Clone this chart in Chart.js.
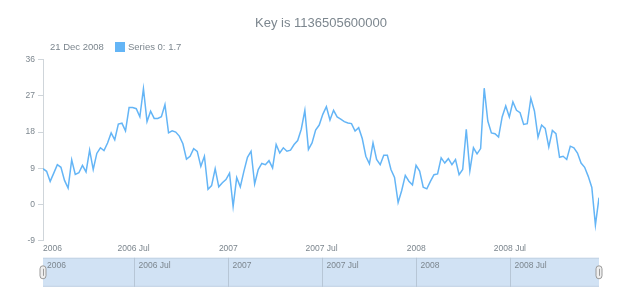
<!DOCTYPE html>
<html>
<head>
<meta charset="utf-8">
<script src="https://cdn.jsdelivr.net/npm/chart.js@4"></script>
<style>
  body { margin: 0; background: #fff; }
  canvas { display: block; }
</style>
</head>
<body>
<canvas id="grafico" width="620" height="300"></canvas>
<script>
// primer y ultimo punto de la serie (ms UTC)
const keyInicio = 1136505600000;          // 06 Jan 2006
const keyFin = Date.UTC(2008, 11, 21);    // 21 Dec 2008

const nombreSerie = 'Series 0';
const valores = [
  8.9, 8.25, 5.75, 7.8, 9.9, 9.25, 6, 4.1, 11.1, 7.5,
  7.9, 9.75, 8.1, 13.5, 8.7, 12.7, 14.1, 13.4, 15.3, 17.8,
  16.1, 20, 20.2, 18.3, 24.1, 24.1, 23.8, 21.8, 28.8, 20.6,
  23.2, 21.4, 21.4, 21.8, 24.8, 17.8, 18.3, 18, 17, 15.1,
  11.3, 12, 13.9, 13.2, 9.5, 12, 3.8, 4.7, 8.9, 4.4,
  5.4, 6.2, 7.8, -0.5, 6.7, 4.4, 8.25, 11.75, 13.25, 5.1,
  8.7, 10.2, 9.9, 10.9, 9.1, 14.9, 12.8, 14.1, 13.25, 13.5,
  14.9, 15.9, 18.7, 23.4, 13.7, 15.3, 18.5, 19.75, 22.4, 24.3,
  21, 23.4, 21.75, 21.2, 20.6, 20.25, 20.1, 18.25, 19.1, 16.4,
  12, 10.1, 15.3, 11.2, 9.9, 12.25, 12.25, 8.7, 6.75, 0.5,
  3.5, 7.25, 5.8, 4.9, 9.75, 8.3, 4.3, 3.9, 5.75, 7.4,
  7.6, 11.6, 10.3, 11.4, 9.9, 11.2, 7.4, 8.7, 18.7, 8.4,
  14.1, 12.6, 13.9, 28.9, 20.75, 17.8, 17.6, 16.75, 21.75, 24.5,
  21.75, 25.5, 23.4, 22.8, 19.9, 20.1, 26.4, 23.25, 16.75, 19.75,
  18.9, 14.3, 18.4, 17.6, 11.75, 12, 11.2, 14.5, 14.1, 12.8,
  10.3, 9.25, 7, 4.25, -5.1, 1.7
];

// marcas del eje x
const fechasTicks = [Date.UTC(2006, 6, 1), Date.UTC(2007, 0, 1), Date.UTC(2007, 6, 1), Date.UTC(2008, 0, 1), Date.UTC(2008, 6, 1)];
const etiquetasTicks = ['2006 Jul', '2007', '2007 Jul', '2008', '2008 Jul'];
const etiquetaInicio = '2006';

const yTicks = [-9, 0, 9, 18, 27, 36];

const gris = '#7c868e';
const azul = '#64b5f6';
const fuente = "'Liberation Sans', Arial, sans-serif";

// puntos cada semana aprox. entre inicio y fin
const paso = (keyFin - keyInicio) / (valores.length - 1);
const puntos = valores.map((v, i) => ({ x: keyInicio + i * paso, y: v }));

const meses = ['Jan','Feb','Mar','Apr','May','Jun','Jul','Aug','Sep','Oct','Nov','Dec'];
function fechaTexto(ms) {
    const d = new Date(ms);
    return String(d.getUTCDate()).padStart(2, '0') + ' ' + meses[d.getUTCMonth()] + ' ' + d.getUTCFullYear();
}

// fila de leyenda: fecha + cuadro + serie
const leyenda = {
    id: 'leyenda',
    afterDraw(chart) {
        const c = chart.ctx;
        const ds = chart.data.datasets[0];
        const ultimo = ds.data[ds.data.length - 1];
        const y = 47;
        c.save();
        c.font = '9.5px ' + fuente;
        c.textBaseline = 'middle';
        c.fillStyle = gris;
        c.fillText(fechaTexto(ultimo.x), 50, y);
        c.fillStyle = azul;
        c.fillRect(115, y - 5, 10, 10);
        c.fillStyle = gris;
        c.fillText(ds.label + ': ' + ultimo.y, 128, y);
        c.restore();
    }
};

// barra de desplazamiento (scroller) bajo el eje x
const scroller = {
    id: 'scroller',
    afterDraw(chart) {
        const c = chart.ctx;
        const xs = chart.scales.x;
        const izq = chart.chartArea.left, der = chart.chartArea.right;
        const top = chart.chartArea.bottom + 17, alto = 29;
        c.save();
        c.fillStyle = '#d1e2f4';
        c.fillRect(izq, top, der - izq, alto);
        c.strokeStyle = '#c3d3e4';
        c.lineWidth = 1;
        c.beginPath();
        c.moveTo(izq, top + 0.5); c.lineTo(der, top + 0.5);
        c.moveTo(izq, top + alto - 0.5); c.lineTo(der, top + alto - 0.5);
        c.stroke();
        c.font = '8.5px ' + fuente;
        c.textBaseline = 'top';
        c.fillStyle = gris;
        c.fillText(etiquetaInicio, izq + 4, top + 4);
        fechasTicks.forEach((f, i) => {
            const px = Math.round(xs.getPixelForValue(f)) + 0.5;
            c.strokeStyle = '#b7c6d6';
            c.beginPath();
            c.moveTo(px, top); c.lineTo(px, top + alto);
            c.stroke();
            c.fillText(etiquetasTicks[i], px + 4, top + 4);
        });
        // asas
        [izq, der].forEach(px => {
            c.fillStyle = '#eeeeee';
            c.strokeStyle = '#9a9a9a';
            c.beginPath();
            c.roundRect(px - 3, top + 8, 6, 13, 3);
            c.fill();
            c.stroke();
            c.beginPath();
            c.moveTo(px + 0.5, top + 11); c.lineTo(px + 0.5, top + 18);
            c.stroke();
        });
        c.restore();
    }
};

const ctx = document.getElementById('grafico');
const myChart = new Chart(ctx, {
    type: 'line',
    data: {
        datasets: [{
            label: nombreSerie,
            data: puntos,
            borderColor: azul,
            borderWidth: 1.5,
            pointRadius: 0,
            tension: 0,
            fill: false
        }]
    },
    options: {
        responsive: false,
        animation: false,
        layout: { padding: { left: 0, right: 21, top: 0, bottom: 43 } },
        plugins: {
            legend: { display: false },
            tooltip: { enabled: false },
            title: {
                display: true,
                fullSize: false,
                text: 'Key is ' + keyInicio,
                color: gris,
                font: { family: fuente, size: 13, weight: 'normal' },
                padding: { top: 16, bottom: 28 }
            }
        },
        scales: {
            x: {
                type: 'linear',
                min: keyInicio,
                max: keyFin,
                afterBuildTicks: s => {
                    s.ticks = [keyInicio].concat(fechasTicks, [keyFin]).map(v => ({ value: v }));
                },
                ticks: {
                    align: 'inner',
                    autoSkip: false,
                    maxRotation: 0,
                    padding: 3,
                    color: gris,
                    font: { family: fuente, size: 8.5 },
                    callback: (v, i, t) => {
                        if (i === 0) return etiquetaInicio;
                        if (i === t.length - 1) return '';
                        return etiquetasTicks[i - 1];
                    }
                },
                grid: { display: false, drawTicks: false },
                border: { display: false }
            },
            y: {
                min: -9,
                max: 36,
                afterBuildTicks: s => { s.ticks = yTicks.map(v => ({ value: v })); },
                afterFit: s => { s.width = 43; },
                ticks: {
                    padding: 3,
                    color: gris,
                    font: { family: fuente, size: 8.5 }
                },
                grid: { drawOnChartArea: false, drawTicks: true, tickLength: 5, color: '#cfd5da' },
                border: { display: true, color: '#cfd5da' }
            }
        }
    },
    plugins: [leyenda, scroller]
});
</script>
</body>
</html>
